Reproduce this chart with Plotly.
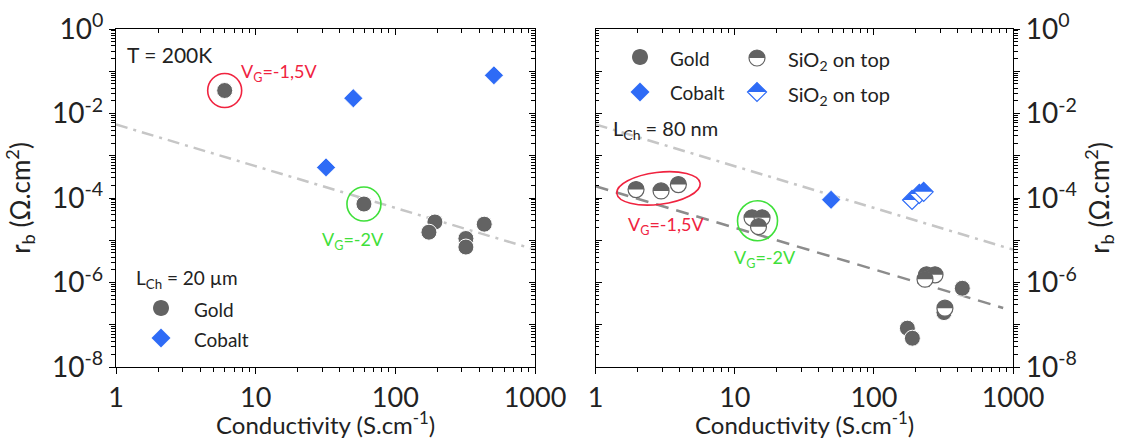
import numpy as np
import plotly.graph_objects as go

# ---------------- data ----------------
# Left panel: L_Ch = 20 um, T = 200 K
left_gold_x = [6.0, 59.6, 192, 433, 174, 320, 320]
left_gold_y = [3.5e-2, 7.2e-5, 2.7e-5, 2.4e-5, 1.55e-5, 1.1e-5, 6.9e-6]
left_cobalt_x = [31.9, 50, 508]
left_cobalt_y = [5.3e-4, 2.3e-2, 8.0e-2]

# Right panel: L_Ch = 80 nm
right_gold_x = [432, 319, 174, 189]
right_gold_y = [7.3e-7, 1.94e-7, 8.3e-8, 4.8e-8]
right_gold_sio2_x = [1.95, 2.95, 3.93, 13.3, 15.7, 14.8, 239, 275, 233, 324]
right_gold_sio2_y = [1.58e-4, 1.47e-4, 2.08e-4, 3.4e-5, 3.4e-5, 2.1e-5,
                     1.52e-6, 1.52e-6, 1.2e-6, 2.47e-7]
right_cobalt_x = [49.2]
right_cobalt_y = [9.1e-5]
right_cobalt_sio2_x = [188, 212, 228]
right_cobalt_sio2_y = [9.0e-5, 1.25e-4, 1.4e-4]

# Guide lines
fit_dashdot_x = [1, 1000]
fit_dashdot_y = [5.5e-3, 6.0e-6]
fit_dashed_x = [1, 850]
fit_dashed_y = [1.9e-4, 2.5e-7]

# Groups measured at a given gate voltage (indices into right_gold_sio2)
group_vg15 = [0, 1, 2]
group_vg2 = [3, 4, 5]

# Axis ticks
x_ticks = [1, 10, 100, 1000]
x_ticktext = ["1", "10", "100", "1000"]
y_label_exps = [0, -2, -4, -6, -8]
y_ticks = [10.0 ** e for e in y_label_exps]
y_ticktext = ["10<sup>%d</sup>" % e for e in y_label_exps]
y_odd_ticks = [10.0 ** e for e in (-1, -3, -5, -7)]
y_all_ticks = [10.0 ** e for e in range(0, -9, -1)]

# ---------------- style ----------------
FONT = "Lato"
INK = "#222222"
GOLD = "#636363"
COBALT = "#2e6bf6"
RED = "#f0233f"
GREEN = "#3fe03a"
W, H = 1121, 439
ML, MR, MT, MB = 116, 108, 29, 72
PW, PH = W - ML - MR, H - MT - MB
SPLIT_L = (535 - ML) / PW
SPLIT_R = (595.7 - ML) / PW


def px(x):
    return (x - ML) / PW


def py(y):
    return (H - MB - y) / PH


K = 0.5523


def circle_path(r, top_only=False):
    k = K * r
    p = f"M {r},0 C {r},{k} {k},{r} 0,{r} C {-k},{r} {-r},{k} {-r},0 "
    if top_only:
        return p + "Z"
    return p + f"C {-r},{-k} {-k},{-r} 0,{-r} C {k},{-r} {r},{-k} {r},0 Z"


def diamond_path(a, top_only=False):
    if top_only:
        return f"M {a},0 L 0,{a} L {-a},0 Z"
    return f"M {a},0 L 0,{a} L {-a},0 L 0,{-a} Z"


def ellipse_path(rx, ry, deg):
    t = np.deg2rad(deg)
    c, s = np.cos(t), np.sin(t)
    kx, ky = K * rx, K * ry
    pts = [(rx, 0), (rx, ky), (kx, ry), (0, ry), (-kx, ry), (-rx, ky), (-rx, 0),
           (-rx, -ky), (-kx, -ry), (0, -ry), (kx, -ry), (rx, -ky), (rx, 0)]
    rp = [(x * c - y * s, x * s + y * c) for x, y in pts]
    f = lambda p: f"{p[0]:.2f},{p[1]:.2f}"
    d = "M " + f(rp[0])
    for i in range(1, 13, 3):
        d += " C " + f(rp[i]) + " " + f(rp[i + 1]) + " " + f(rp[i + 2])
    return d + " Z"


def anchored(path, xref, yref, x, y, fill, line_color=None, lw=0):
    return dict(type="path", xref=xref, yref=yref, xsizemode="pixel",
                ysizemode="pixel", xanchor=x, yanchor=y, path=path,
                fillcolor=fill, line=dict(color=line_color or fill, width=lw),
                layer="above")


R = 8.0     # half-marker radius
DA = 9.5    # half-diamond half-width

fig = go.Figure()

# guide lines
for xa, ya in (("x", "y"), ("x2", "y2")):
    fig.add_trace(go.Scatter(x=fit_dashdot_x, y=fit_dashdot_y, mode="lines",
                             xaxis=xa, yaxis=ya, showlegend=False, hoverinfo="skip",
                             line=dict(color="#c6c6c6", width=2.5,
                                       dash="12px,6px,3px,6px")))
fig.add_trace(go.Scatter(x=fit_dashed_x, y=fit_dashed_y, mode="lines",
                         xaxis="x2", yaxis="y2", showlegend=False, hoverinfo="skip",
                         line=dict(color="#8c8c8c", width=2.5, dash="13px,8px")))

gold_marker = dict(symbol="circle", size=16, color=GOLD, line=dict(color="white", width=1))
cobalt_marker = dict(symbol="diamond", size=14.5, color=COBALT, line=dict(color="white", width=0.6))

fig.add_trace(go.Scatter(x=left_gold_x, y=left_gold_y, mode="markers", name="Gold",
                         xaxis="x", yaxis="y", marker=gold_marker, showlegend=False))
fig.add_trace(go.Scatter(x=left_cobalt_x, y=left_cobalt_y, mode="markers", name="Cobalt",
                         xaxis="x", yaxis="y", marker=cobalt_marker, showlegend=False))
fig.add_trace(go.Scatter(x=right_gold_x, y=right_gold_y, mode="markers", name="Gold",
                         xaxis="x2", yaxis="y2", marker=gold_marker, showlegend=False))
fig.add_trace(go.Scatter(x=right_cobalt_x, y=right_cobalt_y, mode="markers", name="Cobalt",
                         xaxis="x2", yaxis="y2", marker=cobalt_marker, showlegend=False))

# empty traces that hold the extra tick-only axes
for xa, ya in (("x3", "y3"), ("x4", "y4"), ("x", "y5"), ("x2", "y6")):
    fig.add_trace(go.Scatter(x=[], y=[], xaxis=xa, yaxis=ya, showlegend=False))

shapes = []
# SiO2-capped gold: half-filled circles
for x, y in zip(right_gold_sio2_x, right_gold_sio2_y):
    shapes.append(anchored(circle_path(R), "x2", "y2", x, y, "white", GOLD, 1.2))
    shapes.append(anchored(circle_path(R, True), "x2", "y2", x, y, GOLD))
# SiO2-capped cobalt: half-filled diamonds
for x, y in zip(right_cobalt_sio2_x, right_cobalt_sio2_y):
    shapes.append(anchored(diamond_path(DA), "x2", "y2", x, y, "white", COBALT, 1.2))
    shapes.append(anchored(diamond_path(DA, True), "x2", "y2", x, y, COBALT))

# highlighted gate-voltage points, left panel
shapes.append(anchored(circle_path(17), "x", "y", left_gold_x[0], left_gold_y[0],
                       "rgba(0,0,0,0)", RED, 1.6))
shapes.append(anchored(circle_path(17), "x", "y", left_gold_x[1], left_gold_y[1],
                       "rgba(0,0,0,0)", GREEN, 1.6))


def geo_center(idx):
    gx = np.exp(np.mean(np.log([right_gold_sio2_x[i] for i in idx])))
    gy = np.exp(np.mean(np.log([right_gold_sio2_y[i] for i in idx])))
    return gx, gy


cx, cy = geo_center(group_vg15)
shapes.append(anchored(ellipse_path(42, 16, 7), "x2", "y2", cx, cy, "rgba(0,0,0,0)", RED, 1.6))
cx, cy = geo_center(group_vg2)
shapes.append(anchored(ellipse_path(20, 20, 0), "x2", "y2", cx, cy, "rgba(0,0,0,0)", GREEN, 1.6))


# legend keys
def key(path, x, y, fill, line_color=None, lw=0):
    return dict(type="path", xref="paper", yref="paper", xsizemode="pixel",
                ysizemode="pixel", xanchor=px(x), yanchor=py(y), path=path,
                fillcolor=fill, line=dict(color=line_color or fill, width=lw),
                layer="above")


shapes.append(key(circle_path(8), 161, 308, GOLD))
shapes.append(key(diamond_path(DA), 161, 338, COBALT))
shapes.append(key(circle_path(8), 640, 57, GOLD))
shapes.append(key(diamond_path(DA), 640, 92, COBALT))
shapes.append(key(circle_path(R), 757, 58, "white", GOLD, 1.2))
shapes.append(key(circle_path(R, True), 757, 58, GOLD))
shapes.append(key(diamond_path(DA), 757, 92, "white", COBALT, 1.2))
shapes.append(key(diamond_path(DA, True), 757, 92, COBALT))

annotations = []


def label(text, x, y, color=INK, size=19):
    annotations.append(dict(text=text, x=px(x), y=py(y), xref="paper", yref="paper",
                            xanchor="left", yanchor="middle", showarrow=False,
                            font=dict(family=FONT, size=size, color=color)))


label("T = 200K", 125, 55, size=21)
label("V<sub>G</sub>=-1,5V", 239, 72, RED, 18)
label("V<sub>G</sub>=-2V", 320, 240, GREEN, 18)
label("L<sub>Ch</sub> = 20 µm", 134, 279)
label("Gold", 192, 309)
label("Cobalt", 192, 339)
label("Gold", 668, 58)
label("Cobalt", 668, 93)
label("SiO<sub>2</sub> on top", 786, 60, size=20)
label("SiO<sub>2</sub> on top", 786, 95, size=20)
label("L<sub>Ch</sub> = 80 nm", 611, 129, size=20)
label("V<sub>G</sub>=-1,5V", 626, 225, RED, 18)
label("V<sub>G</sub>=-2V", 732, 258, GREEN, 18)

# x-axis titles in the bottom margin under each panel
for xd in ("x domain", "x2 domain"):
    annotations.append(dict(text="Conductivity (S.cm<sup>-1</sup>)", x=0.5, y=py(423),
                            xref=xd, yref="paper", xanchor="center", yanchor="middle",
                            showarrow=False, font=dict(family=FONT, size=24, color=INK)))

x_minor = [m * 10.0 ** d for d in range(0, 3) for m in range(2, 10)]
y_minor = [m * 10.0 ** d for d in range(-8, 0) for m in range(2, 10)]

tickfont = dict(family=FONT, size=27, color=INK)
line_kw = dict(showline=True, linecolor="black", linewidth=1.3, showgrid=False,
               zeroline=False, tickcolor="black", tickwidth=1.2)


def xaxis_main(domain, anchor):
    return dict(type="log", domain=domain, anchor=anchor, range=[0, 3],
                tickmode="array", tickvals=x_ticks, ticktext=x_ticktext,
                ticks="outside", ticklen=6, tickfont=tickfont,
                minor=dict(tickmode="array", tickvals=x_minor, ticks="outside",
                           ticklen=3.5, tickcolor="black", tickwidth=1),
                **line_kw)


def yaxis_main(anchor, side):
    return dict(type="log", domain=[0, 1], anchor=anchor, side=side, range=[-8, 0],
                tickmode="array", tickvals=y_ticks, ticktext=y_ticktext,
                ticks="outside", ticklen=6, tickfont=dict(family=FONT, size=28, color=INK),
                minor=dict(tickmode="array", tickvals=y_minor, ticks="outside",
                           ticklen=3.5, tickcolor="black", tickwidth=1),
                title=dict(text="r<sub>b</sub> (Ω.cm<sup>2</sup>)",
                           font=dict(family=FONT, size=26, color=INK), standoff=14),
                **line_kw)


def yaxis_odd(over, anchor, side):
    # unlabeled major ticks on the odd decades
    return dict(type="log", overlaying=over, anchor=anchor, side=side, range=[-8, 0],
                tickmode="array", tickvals=y_odd_ticks, showticklabels=False,
                ticks="outside", ticklen=6, showline=False, showgrid=False,
                zeroline=False, tickcolor="black", tickwidth=1.2)


def xaxis_mirror(over, anchor):
    return dict(type="log", overlaying=over, anchor=anchor, side="top", range=[0, 3],
                tickmode="array", tickvals=x_ticks, showticklabels=False,
                ticks="inside", ticklen=6,
                minor=dict(tickmode="array", tickvals=x_minor, ticks="inside",
                           ticklen=3.5, tickcolor="black", tickwidth=1),
                **line_kw)


def yaxis_mirror(over, anchor, side):
    return dict(type="log", overlaying=over, anchor=anchor, side=side, range=[-8, 0],
                tickmode="array", tickvals=y_all_ticks, showticklabels=False,
                ticks="inside", ticklen=6,
                minor=dict(tickmode="array", tickvals=y_minor, ticks="inside",
                           ticklen=3.5, tickcolor="black", tickwidth=1),
                **line_kw)


fig.update_layout(
    width=W, height=H,
    margin=dict(l=ML, r=MR, t=MT, b=MB, autoexpand=False),
    paper_bgcolor="white", plot_bgcolor="white",
    font=dict(family=FONT, color=INK),
    showlegend=False,
    xaxis=xaxis_main([0, SPLIT_L], "y"),
    yaxis=yaxis_main("x", "left"),
    xaxis2=xaxis_main([SPLIT_R, 1], "y2"),
    yaxis2=yaxis_main("x2", "right"),
    xaxis3=xaxis_mirror("x", "y"),
    yaxis3=yaxis_mirror("y", "x", "right"),
    xaxis4=xaxis_mirror("x2", "y2"),
    yaxis4=yaxis_mirror("y2", "x2", "left"),
    yaxis5=yaxis_odd("y", "x", "left"),
    yaxis6=yaxis_odd("y2", "x2", "right"),
    shapes=shapes,
    annotations=annotations,
)

fig.write_html("out.html")
